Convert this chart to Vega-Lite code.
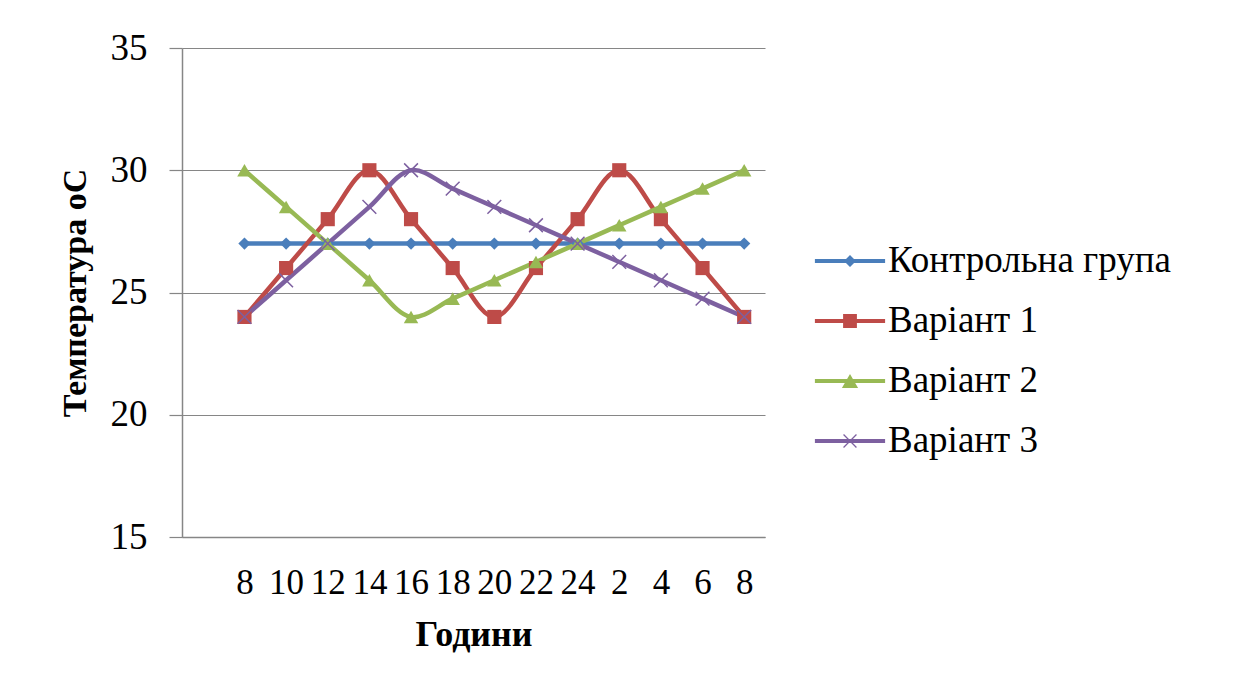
{
  "$schema": "https://vega.github.io/schema/vega-lite/v6.json",
  "width": 583,
  "height": 489,
  "autosize": "none",
  "padding": {"left": 182, "top": 48, "right": 471, "bottom": 151},
  "background": "white",
  "config": {
    "font": "Liberation Serif",
    "view": {"stroke": null}
  },
  "data": {"values": [
    {"i": 0, "h": "8", "series": "Контрольна група", "t": 27},
    {"i": 1, "h": "10", "series": "Контрольна група", "t": 27},
    {"i": 2, "h": "12", "series": "Контрольна група", "t": 27},
    {"i": 3, "h": "14", "series": "Контрольна група", "t": 27},
    {"i": 4, "h": "16", "series": "Контрольна група", "t": 27},
    {"i": 5, "h": "18", "series": "Контрольна група", "t": 27},
    {"i": 6, "h": "20", "series": "Контрольна група", "t": 27},
    {"i": 7, "h": "22", "series": "Контрольна група", "t": 27},
    {"i": 8, "h": "24", "series": "Контрольна група", "t": 27},
    {"i": 9, "h": "2", "series": "Контрольна група", "t": 27},
    {"i": 10, "h": "4", "series": "Контрольна група", "t": 27},
    {"i": 11, "h": "6", "series": "Контрольна група", "t": 27},
    {"i": 12, "h": "8", "series": "Контрольна група", "t": 27},
    {"i": 0, "h": "8", "series": "Варіант 1", "t": 24},
    {"i": 1, "h": "10", "series": "Варіант 1", "t": 26},
    {"i": 2, "h": "12", "series": "Варіант 1", "t": 28},
    {"i": 3, "h": "14", "series": "Варіант 1", "t": 30},
    {"i": 4, "h": "16", "series": "Варіант 1", "t": 28},
    {"i": 5, "h": "18", "series": "Варіант 1", "t": 26},
    {"i": 6, "h": "20", "series": "Варіант 1", "t": 24},
    {"i": 7, "h": "22", "series": "Варіант 1", "t": 26},
    {"i": 8, "h": "24", "series": "Варіант 1", "t": 28},
    {"i": 9, "h": "2", "series": "Варіант 1", "t": 30},
    {"i": 10, "h": "4", "series": "Варіант 1", "t": 28},
    {"i": 11, "h": "6", "series": "Варіант 1", "t": 26},
    {"i": 12, "h": "8", "series": "Варіант 1", "t": 24},
    {"i": 0, "h": "8", "series": "Варіант 2", "t": 30},
    {"i": 1, "h": "10", "series": "Варіант 2", "t": 28.5},
    {"i": 2, "h": "12", "series": "Варіант 2", "t": 27},
    {"i": 3, "h": "14", "series": "Варіант 2", "t": 25.5},
    {"i": 4, "h": "16", "series": "Варіант 2", "t": 24},
    {"i": 5, "h": "18", "series": "Варіант 2", "t": 24.75},
    {"i": 6, "h": "20", "series": "Варіант 2", "t": 25.5},
    {"i": 7, "h": "22", "series": "Варіант 2", "t": 26.25},
    {"i": 8, "h": "24", "series": "Варіант 2", "t": 27},
    {"i": 9, "h": "2", "series": "Варіант 2", "t": 27.75},
    {"i": 10, "h": "4", "series": "Варіант 2", "t": 28.5},
    {"i": 11, "h": "6", "series": "Варіант 2", "t": 29.25},
    {"i": 12, "h": "8", "series": "Варіант 2", "t": 30},
    {"i": 0, "h": "8", "series": "Варіант 3", "t": 24},
    {"i": 1, "h": "10", "series": "Варіант 3", "t": 25.5},
    {"i": 2, "h": "12", "series": "Варіант 3", "t": 27},
    {"i": 3, "h": "14", "series": "Варіант 3", "t": 28.5},
    {"i": 4, "h": "16", "series": "Варіант 3", "t": 30},
    {"i": 5, "h": "18", "series": "Варіант 3", "t": 29.25},
    {"i": 6, "h": "20", "series": "Варіант 3", "t": 28.5},
    {"i": 7, "h": "22", "series": "Варіант 3", "t": 27.75},
    {"i": 8, "h": "24", "series": "Варіант 3", "t": 27},
    {"i": 9, "h": "2", "series": "Варіант 3", "t": 26.25},
    {"i": 10, "h": "4", "series": "Варіант 3", "t": 25.5},
    {"i": 11, "h": "6", "series": "Варіант 3", "t": 24.75},
    {"i": 12, "h": "8", "series": "Варіант 3", "t": 24}
  ]},
  "encoding": {
    "x": {
      "field": "i", "type": "quantitative",
      "scale": {"domain": [-1.5, 12.5], "nice": false, "zero": false},
      "axis": {
        "title": "Години",
        "values": [0, 1, 2, 3, 4, 5, 6, 7, 8, 9, 10, 11, 12],
        "labelExpr": "['8','10','12','14','16','18','20','22','24','2','4','6','8'][datum.value]",
        "grid": false, "ticks": false,
        "labelFont": "Liberation Serif",
        "labelFontSize": 35, "labelColor": "black", "labelPadding": 28,
        "labelOverlap": false, "labelFlush": false,
        "domainColor": "#868686", "domainWidth": 1.5,
        "titleFont": "Liberation Serif",
        "titleFontSize": 36, "titleFontWeight": "bold", "titleColor": "black", "titlePadding": 17
      }
    },
    "y": {
      "field": "t", "type": "quantitative",
      "scale": {"domain": [15, 35], "nice": false, "zero": false},
      "axis": {
        "title": "Температура oС",
        "values": [15, 20, 25, 30, 35],
        "grid": true, "gridColor": "#868686", "gridWidth": 1.2,
        "tickSize": 13, "tickColor": "#868686", "tickWidth": 1.2,
        "domainColor": "#868686", "domainWidth": 1.5,
        "labelFont": "Liberation Serif",
        "labelFontSize": 37, "labelColor": "black", "labelPadding": 22,
        "titleFont": "Liberation Serif",
        "titleFontSize": 34, "titleFontWeight": "bold", "titleColor": "black", "titlePadding": 18
      }
    }
  },
  "layer": [
    {
      "mark": {"type": "line", "interpolate": "catmull-rom", "strokeWidth": 4.5},
      "encoding": {
        "color": {
          "field": "series", "type": "nominal",
          "scale": {
            "domain": ["Контрольна група", "Варіант 1", "Варіант 2", "Варіант 3"],
            "range": ["#4A7EBB", "#BE4B48", "#98B954", "#7D60A0"]
          },
          "legend": {
            "title": null, "orient": "none", "legendX": 638, "legendY": 183,
            "padding": 0, "symbolSize": 3600, "labelFontSize": 37, "labelColor": "black",
            "labelFont": "Liberation Serif",
            "labelOffset": 8, "labelLimit": 400, "rowPadding": 12,
            "encode": {
              "symbols": {"update": {
                "shape": {"signal": "datum.value === 'Контрольна група' ? 'M-1.17,-0.067H1.17V0.067H-1.17Z M0,-0.2L0.2,0L0,0.2L-0.2,0Z' : datum.value === 'Варіант 1' ? 'M-1.17,-0.067H1.17V0.067H-1.17Z M-0.23,-0.23H0.23V0.23H-0.23Z' : datum.value === 'Варіант 2' ? 'M-1.17,-0.067H1.17V0.067H-1.17Z M0,-0.23L0.27,0.23L-0.27,0.23Z' : 'M-1.17,-0.067H1.17V0.067H-1.17Z M-0.23,-0.2L-0.2,-0.23L0.23,0.2L0.2,0.23Z M-0.23,0.2L0.2,-0.23L0.23,-0.2L-0.2,0.23Z'"},
                "fill": {"scale": "color", "field": "value"},
                "stroke": {"value": "transparent"},
                "strokeWidth": {"value": 0},
                "opacity": {"value": 1}
              }}
            }
          }
        }
      }
    },
    {
      "transform": [{"filter": "datum.series === 'Контрольна група'"}],
      "mark": {"type": "point", "shape": "diamond", "filled": true, "color": "#4A7EBB", "opacity": 1, "size": 150}
    },
    {
      "transform": [{"filter": "datum.series === 'Варіант 1'"}],
      "mark": {"type": "point", "shape": "square", "filled": true, "color": "#BE4B48", "opacity": 1, "size": 200}
    },
    {
      "transform": [{"filter": "datum.series === 'Варіант 2'"}],
      "mark": {"type": "point", "shape": "triangle-up", "filled": true, "color": "#98B954", "opacity": 1, "size": 210}
    },
    {
      "transform": [{"filter": "datum.series === 'Варіант 3'"}],
      "mark": {"type": "point", "shape": "M-1,-1L1,1M-1,1L1,-1", "filled": false, "color": "#7D60A0", "strokeWidth": 1.5, "opacity": 1, "size": 190}
    }
  ]
}
